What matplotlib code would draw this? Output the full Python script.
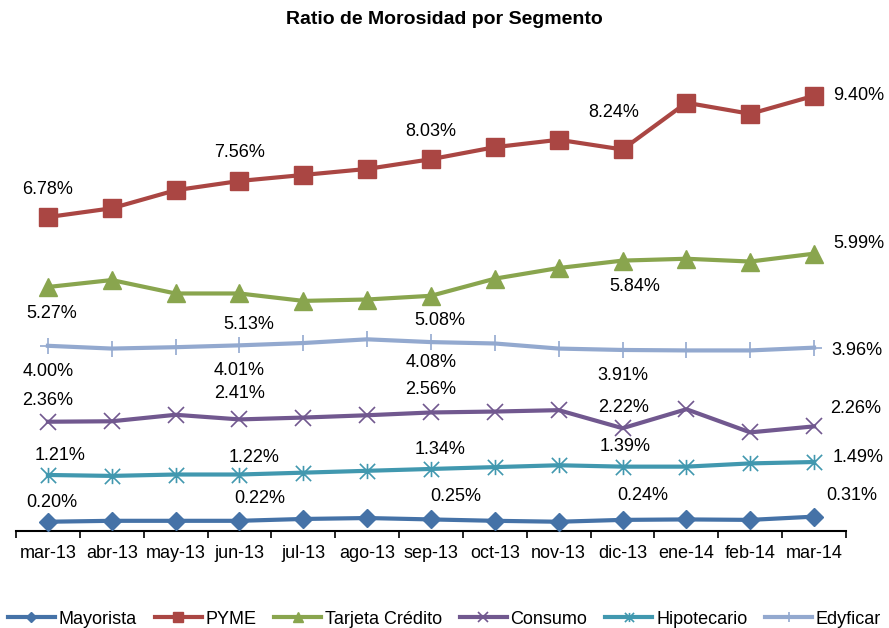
import matplotlib
matplotlib.use("Agg")
import matplotlib.pyplot as plt
from matplotlib.path import Path
import numpy as np

plt.rcParams['font.family'] = ['Liberation Sans', 'DejaVu Sans']

months = ["mar-13", "abr-13", "may-13", "jun-13", "jul-13", "ago-13", "sep-13",
          "oct-13", "nov-13", "dic-13", "ene-14", "feb-14", "mar-14"]

mayorista = [0.20, 0.22, 0.22, 0.22, 0.26, 0.28, 0.25, 0.22, 0.20, 0.24, 0.25, 0.24, 0.31]
pyme = [6.78, 6.97, 7.36, 7.56, 7.69, 7.82, 8.03, 8.29, 8.45, 8.24, 9.25, 9.01, 9.40]
tarjeta = [5.27, 5.42, 5.13, 5.13, 4.97, 5.00, 5.08, 5.45, 5.68, 5.84, 5.88, 5.82, 5.99]
consumo = [2.36, 2.37, 2.51, 2.41, 2.45, 2.50, 2.56, 2.58, 2.61, 2.22, 2.63, 2.13, 2.26]
hipotecario = [1.21, 1.19, 1.22, 1.22, 1.26, 1.30, 1.34, 1.38, 1.42, 1.39, 1.39, 1.46, 1.49]
edyficar = [4.00, 3.94, 3.97, 4.01, 4.06, 4.14, 4.08, 4.05, 3.94, 3.91, 3.90, 3.90, 3.96]

series_names = ["Mayorista", "PYME", "Tarjeta Crédito", "Consumo", "Hipotecario", "Edyficar"]
labeled_idx = [0, 3, 6, 9, 12]

# asterisk marker path (X + vertical)
ast_verts = [(-0.5, -0.5), (0.5, 0.5), (-0.5, 0.5), (0.5, -0.5), (0, -0.5), (0, 0.5)]
ast_codes = [Path.MOVETO, Path.LINETO, Path.MOVETO, Path.LINETO, Path.MOVETO, Path.LINETO]
asterisk = Path(ast_verts, ast_codes)

styles = {
    "Mayorista": dict(color="#4572A7", marker="D", ms=9, mew=1),
    "PYME": dict(color="#AA4643", marker="s", ms=12.5, mew=1),
    "Tarjeta Crédito": dict(color="#89A54E", marker="^", ms=13, mew=1),
    "Consumo": dict(color="#71588F", marker="x", ms=11, mew=1.2),
    "Hipotecario": dict(color="#4198AF", marker=asterisk, ms=11, mew=1.2),
    "Edyficar": dict(color="#93A9CF", marker="+", ms=12, mew=1.2),
}

# label offsets in pixels (dx, dy) relative to marker; ha
label_offsets = {
    "PYME": [(0, 28, 'center'), (0, 28, 'center'), (0, 28, 'center'), (-9, 37, 'center'), (19, 0, 'left')],
    "Tarjeta Crédito": [(4, -27, 'center'), (9, -31, 'center'), (9, -25, 'center'), (12, -26, 'center'), (19, 10, 'left')],
    "Edyficar": [(0, -26, 'center'), (0, -25, 'center'), (0, -20, 'center'), (0, -26, 'center'), (17, -3, 'left')],
    "Consumo": [(0, 21, 'center'), (0, 26, 'center'), (0, 23, 'center'), (1, 21, 'center'), (16, 18, 'left')],
    "Hipotecario": [(12, 19, 'center'), (15, 17, 'center'), (9, 19, 'center'), (3, 20, 'center'), (19, 5, 'left')],
    "Mayorista": [(4, 19, 'center'), (20, 22, 'center'), (25, 23, 'center'), (20, 24, 'center'), (12, 21, 'left')],
}

data = {
    "Mayorista": mayorista, "PYME": pyme, "Tarjeta Crédito": tarjeta,
    "Consumo": consumo, "Hipotecario": hipotecario, "Edyficar": edyficar,
}

fig = plt.figure(figsize=(8.89, 6.28), dpi=100)
ax = fig.add_axes([16/889, 1 - 531/628, 830/889, (531 - 68)/628])

x = np.arange(len(months))
handles = []
for name in series_names:
    st = styles[name]
    h, = ax.plot(x, data[name], color=st["color"], lw=3, marker=st["marker"],
                 ms=st["ms"], mew=st["mew"], mec=st["color"], mfc=st["color"],
                 label=name, zorder=3, clip_on=False)
    handles.append(h)
    for k, i in enumerate(labeled_idx):
        dx, dy, ha = label_offsets[name][k]
        ax.annotate(f"{data[name][i]:.2f}%", (x[i], data[name][i]),
                    xytext=(dx, dy), textcoords='offset pixels',
                    ha=ha, va='center', fontsize=13, color='black')

ax.set_xlim(-0.5, len(months) - 0.5)
ax.set_ylim(0, 10)
ax.set_yticks([])
for s in ["left", "right", "top"]:
    ax.spines[s].set_visible(False)
ax.spines["bottom"].set_color("black")
ax.spines["bottom"].set_linewidth(1.5)
ax.set_xticks(x)
ax.set_xticklabels(months, fontsize=13)
ax.set_xticks(np.arange(-0.5, len(months), 1.0), minor=True)
ax.tick_params(axis='x', which='major', length=0, pad=10)
ax.tick_params(axis='x', which='minor', length=5, width=1.2, direction='out', color='black')

fig.text(0.5, 1 - 19/628, "Ratio de Morosidad por Segmento", ha='center', va='center',
         fontsize=14, fontweight='bold')

fig.legend(handles=handles, loc='center', bbox_to_anchor=(0.5, 1 - 619/628), ncol=6,
           frameon=False, fontsize=13, handlelength=2.6, handletextpad=0.2,
           columnspacing=1.0, markerscale=0.6, borderaxespad=0)

fig.savefig("out.png", dpi=100)
